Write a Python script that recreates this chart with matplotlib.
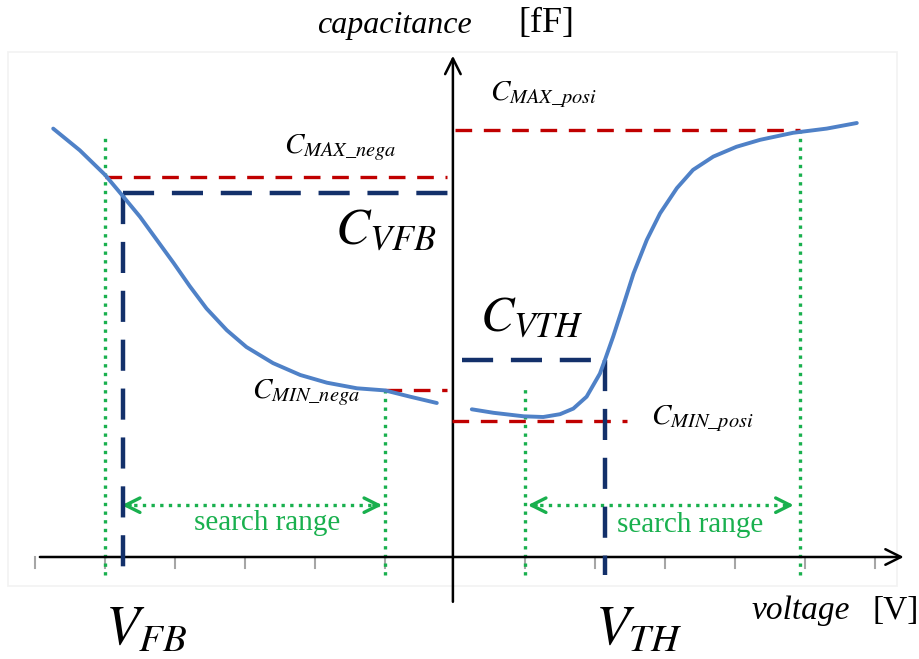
import numpy as np
import matplotlib
matplotlib.use("Agg")
import matplotlib.pyplot as plt
from matplotlib.patches import Rectangle

plt.rcParams['mathtext.fontset'] = 'stix'
plt.rcParams['font.family'] = ['Liberation Serif', 'DejaVu Serif']

# C-V curve, negative bias side (voltage [V], capacitance [fF])
v_neg = [-5.74, -5.36, -5.00, -4.74, -4.50, -4.26, -4.02, -3.79, -3.55, -3.26,
         -2.98, -2.60, -2.21, -1.83, -1.40, -1.00, -0.64, -0.26]
c_neg = [6.12, 5.81, 5.46, 5.15, 4.86, 4.53, 4.20, 3.87, 3.55, 3.24,
         3.00, 2.77, 2.60, 2.49, 2.41, 2.38, 2.29, 2.20]

# C-V curve, positive bias side
v_pos = [0.24, 0.55, 0.98, 1.26, 1.50, 1.69, 1.88, 2.07, 2.14, 2.26, 2.40,
         2.55, 2.74, 2.93, 3.17, 3.40, 3.69, 4.02, 4.36, 4.83, 5.31, 5.74]
c_pos = [2.11, 2.06, 2.01, 2.00, 2.04, 2.12, 2.29, 2.62, 2.81, 3.15, 3.58,
         4.05, 4.53, 4.91, 5.27, 5.53, 5.72, 5.86, 5.96, 6.06, 6.12, 6.20]

# extracted levels
c_max_nega = 5.43
c_min_nega = 2.39
c_max_posi = 6.10
c_min_posi = 1.94
c_vfb = 5.20
c_vth = 2.81
v_fb = -4.74
v_th = 2.14

# search windows
search_neg = (-5.0, -1.0)
search_pos = (1.0, 4.93)

ticks = [-6, -5, -4, -3, -2, -1, 1, 2, 3, 4, 5, 6]

blue = '#4f81c7'
navy = '#13306a'
red = '#c00000'
green = '#19b04e'

fig = plt.figure(figsize=(9.2, 6.59), dpi=100)
ax = fig.add_axes([0, 0, 1, 1])
ax.set_xlim(-455 / 70, 465 / 70)
ax.set_ylim(-102 / 70, 557 / 70)
ax.axis('off')

# faint panel frame
ax.add_patch(Rectangle((-6.39, -0.41), 12.7, 7.62, facecolor='white',
                       edgecolor='#f2f2f2', lw=1.2, zorder=0))

# axes with open arrow heads
ax.annotate('', xy=(6.45, 0), xytext=(-5.97, 0),
            arrowprops=dict(arrowstyle='->', lw=1.8, color='black', mutation_scale=28))
ax.annotate('', xy=(-0.03, 7.2), xytext=(-0.03, -0.68),
            arrowprops=dict(arrowstyle='->', lw=1.8, color='black', mutation_scale=28))
for t in ticks:
    ax.plot([t, t], [0, -0.15], color='#a6a6a6', lw=1.5, zorder=1)

# green search-range verticals
dot = dict(color=green, lw=2.4, ls=(0, (1, 1.6)), zorder=2)
ax.plot([search_neg[0]] * 2, [-0.25, 6.05], **dot)
ax.plot([search_neg[1]] * 2, [-0.25, c_min_nega], **dot)
ax.plot([search_pos[0]] * 2, [-0.25, 2.45], **dot)
ax.plot([search_pos[1]] * 2, [-0.25, c_max_posi], **dot)

# red min / max levels
red_ls = dict(color=red, lw=2.4, ls=(0, (5, 3.5)), zorder=3)
ax.plot([search_neg[0], -0.11], [c_max_nega] * 2, **red_ls)
ax.plot([search_neg[1], -0.11], [c_min_nega] * 2, **red_ls)
ax.plot([0.0, search_pos[1]], [c_max_posi] * 2, **red_ls)
ax.plot([-0.05, 2.46], [c_min_posi] * 2, **red_ls)

# navy V_FB / V_TH construction lines
navy_ls = dict(color=navy, lw=3.2, ls=(0, (7, 4)), zorder=4)
ax.plot([v_fb, -0.03], [c_vfb] * 2, **navy_ls)
ax.plot([v_fb, v_fb], [c_vfb, -0.25], **navy_ls)
ax.plot([0.1, v_th], [c_vth] * 2, **navy_ls)
ax.plot([v_th, v_th], [c_vth, -0.25], **navy_ls)

# C-V curves
ax.plot(v_neg, c_neg, color=blue, lw=2.8, solid_capstyle='round',
        solid_joinstyle='round', zorder=5)
ax.plot(v_pos, c_pos, color=blue, lw=2.8, solid_capstyle='round',
        solid_joinstyle='round', zorder=5)

# search range arrows
for lo, hi, yv in [(-4.8, search_neg[1], 0.74), (1.0, 4.88, 0.74)]:
    ax.plot([lo + 0.08, hi - 0.08], [yv, yv], **dot)
    ax.annotate('', xy=(lo, yv), xytext=(lo + 0.2, yv),
                arrowprops=dict(arrowstyle='->', lw=2.4, color=green, mutation_scale=26))
    ax.annotate('', xy=(hi, yv), xytext=(hi - 0.2, yv),
                arrowprops=dict(arrowstyle='->', lw=2.4, color=green, mutation_scale=26))
ax.text(-2.69, 0.48, 'search range', color=green, fontsize=21, ha='center', va='center')
ax.text(3.36, 0.46, 'search range', color=green, fontsize=21, ha='center', va='center')

# axis titles
ax.text(0.24, 7.6, 'capacitance', fontsize=23, style='italic', ha='right', va='center')
ax.text(1.31, 7.62, '[fF]', fontsize=26, ha='center', va='center')
ax.text(5.65, -0.77, 'voltage', fontsize=24, style='italic', ha='right', va='center')
ax.text(6.3, -0.77, '[V]', fontsize=24, ha='center', va='center')

# symbol labels
ax.text(-5.0, -1.05, r'$V_{FB}$', fontsize=40, ha='left', va='center')
ax.text(2.0, -1.05, r'$V_{TH}$', fontsize=40, ha='left', va='center')
ax.text(-1.72, 4.65, r'$C_{VFB}$', fontsize=37, ha='left', va='center')
ax.text(0.35, 3.4, r'$C_{VTH}$', fontsize=36, ha='left', va='center')
ax.text(-2.45, 5.85, r'$C_{MAX\_nega}$', fontsize=21, ha='left', va='center')
ax.text(-2.9, 2.35, r'$C_{MIN\_nega}$', fontsize=21, ha='left', va='center')
ax.text(0.5, 6.6, r'$C_{MAX\_posi}$', fontsize=21, ha='left', va='center')
ax.text(2.8, 1.97, r'$C_{MIN\_posi}$', fontsize=21, ha='left', va='center')

fig.savefig('out.png', dpi=100)
